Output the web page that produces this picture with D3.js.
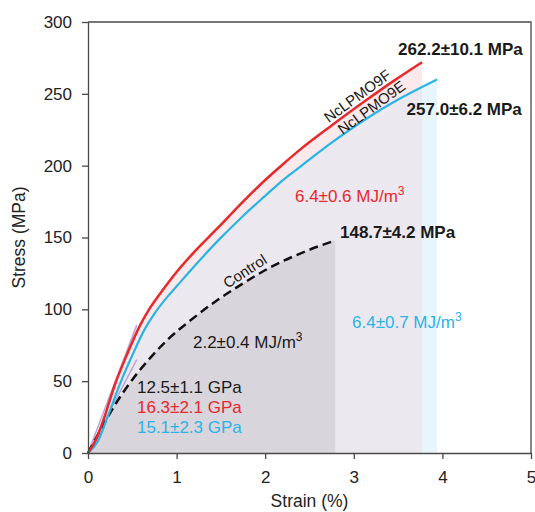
<!DOCTYPE html>
<html lang="en">
  <head>
    <meta charset="utf-8" />
    <title>Stress-strain</title>
    <script src="https://d3js.org/d3.v7.min.js"></script>
    <style>
      body { margin: 0; background: #fff; }
      text { font-family: "Liberation Sans", Arial, sans-serif; }
    </style>
  </head>
  <body>
    <div id="container"></div>
    <script>
      var width = 535;
      var height = 512;

      // strain (%) / stress (MPa)
      var strainF = [0, 0.08, 0.18, 0.3, 0.45, 0.58, 0.7, 0.85, 1.0, 1.2, 1.47, 1.75, 2.0, 2.2, 2.39, 2.75, 3.15, 3.45, 3.77];
      var stressF = [0, 8, 24, 47, 70, 88, 101, 114, 126, 140, 157, 175, 190, 201, 211, 228, 246, 259, 272];

      var strainE = [0, 0.11, 0.22, 0.36, 0.5, 0.63, 0.75, 0.9, 1.0, 1.2, 1.47, 1.75, 2.0, 2.2, 2.39, 2.75, 3.15, 3.5, 3.94];
      var stressE = [0, 8, 25, 48, 68, 85, 97, 109, 116, 130, 148, 165, 179, 190, 199, 216, 233, 246, 260];

      var strainC = [0, 0.15, 0.3, 0.5, 0.7, 0.9, 1.15, 1.45, 1.75, 2.05, 2.4, 2.79];
      var stressC = [0, 17, 33, 51, 66, 79, 92, 106, 118, 129, 139, 148];

      // modulus tangent lines [strain, stress]
      var tangents = [[0.55, 89], [0.55, 65]];

      var xTicks = [0, 1, 2, 3, 4, 5];
      var yTicks = [0, 50, 100, 150, 200, 250, 300];

      var black = "#1a1a1a";
      var red = "#e8282b";
      var blue = "#29b4e6";

      function zip(xs, ys) {
        return xs.map(function (v, i) { return { s: v, v: ys[i] }; });
      }
      var dataF = zip(strainF, stressF);
      var dataE = zip(strainE, stressE);
      var dataC = zip(strainC, stressC);

      var svg = d3.select("#container").append("svg")
        .attr("width", width)
        .attr("height", height);

      var x = d3.scaleLinear().domain([0, 5]).range([88, 531]);
      var y = d3.scaleLinear().domain([0, 300]).range([453, 22]);

      var area = d3.area()
        .x(function (d) { return x(d.s); })
        .y0(y(0))
        .y1(function (d) { return y(d.v); })
        .curve(d3.curveMonotoneX);
      var line = d3.line()
        .x(function (d) { return x(d.s); })
        .y(function (d) { return y(d.v); })
        .curve(d3.curveMonotoneX);

      // clip for the overlap of both areas
      svg.append("clipPath").attr("id", "clipF")
        .append("rect")
        .attr("x", x(0)).attr("y", y(300))
        .attr("width", x(strainF[strainF.length - 1]) - x(0))
        .attr("height", y(0) - y(300));

      svg.append("path").datum(dataE).attr("d", area).attr("fill", "#e8f6fc");
      svg.append("path").datum(dataF).attr("d", area).attr("fill", "#fbe9eb");
      svg.append("path").datum(dataE).attr("d", area).attr("fill", "#ece8ef")
        .attr("clip-path", "url(#clipF)");
      svg.append("path").datum(dataC).attr("d", area).attr("fill", "#d9d5dc");

      // tangent lines
      svg.selectAll(".tan").data(tangents).enter().append("line")
        .attr("x1", x(0)).attr("y1", y(0))
        .attr("x2", function (d) { return x(d[0]); })
        .attr("y2", function (d) { return y(d[1]); })
        .attr("stroke", "#b9a5d8")
        .attr("stroke-width", 1.5);

      svg.append("path").datum(dataC).attr("d", line)
        .attr("fill", "none").attr("stroke", "#111")
        .attr("stroke-width", 2.5).attr("stroke-dasharray", "9,5");
      svg.append("path").datum(dataE).attr("d", line)
        .attr("fill", "none").attr("stroke", blue).attr("stroke-width", 2.2);
      svg.append("path").datum(dataF).attr("d", line)
        .attr("fill", "none").attr("stroke", red).attr("stroke-width", 2.5);

      // axes and frame
      var axisColor = "#4a4a4a";
      var xAxis = svg.append("g").attr("transform", "translate(0," + y(0) + ")")
        .call(d3.axisBottom(x).tickValues(xTicks).tickSize(6).tickSizeOuter(0).tickPadding(12).tickFormat(d3.format("d")));
      var yAxis = svg.append("g").attr("transform", "translate(" + x(0) + ",0)")
        .call(d3.axisLeft(y).tickValues(yTicks).tickSize(6).tickSizeOuter(0).tickPadding(10));
      [xAxis, yAxis].forEach(function (g) {
        g.selectAll("path, line").attr("stroke", axisColor).attr("stroke-width", 1.3);
        g.selectAll("text").attr("font-size", "17px").attr("fill", "#222")
          .style("font-family", '"Liberation Sans", Arial, sans-serif');
      });
      svg.append("path")
        .attr("d", "M" + x(0) + "," + y(300) + "H" + x(5) + "V" + y(0))
        .attr("fill", "none").attr("stroke", axisColor).attr("stroke-width", 1.3);

      svg.append("text").attr("x", (x(0) + x(5)) / 2).attr("y", 507)
        .attr("text-anchor", "middle").attr("font-size", "17.5px").attr("fill", "#222")
        .text("Strain (%)");
      svg.append("text")
        .attr("transform", "translate(25," + ((y(0) + y(300)) / 2) + ") rotate(-90)")
        .attr("text-anchor", "middle").attr("font-size", "17.5px").attr("fill", "#222")
        .text("Stress (MPa)");

      // annotations: [strain, stress, text, color, bold, superscript]
      var notes = [
        [3.50, 277, "262.2±10.1 MPa", black, true, ""],
        [3.596, 235, "257.0±6.2 MPa", black, true, ""],
        [2.844, 150, "148.7±4.2 MPa", black, true, ""],
        [2.336, 174.7, "6.4±0.6 MJ/m", red, false, "3"],
        [2.98, 87, "6.4±0.7 MJ/m", blue, false, "3"],
        [1.185, 73.1, "2.2±0.4 MJ/m", black, false, "3"],
        [0.553, 41.8, "12.5±1.1 GPa", black, false, ""],
        [0.553, 27.8, "16.3±2.1 GPa", red, false, ""],
        [0.553, 13.9, "15.1±2.3 GPa", blue, false, ""]
      ];
      notes.forEach(function (n) {
        var t = svg.append("text")
          .attr("x", x(n[0])).attr("y", y(n[1]))
          .attr("font-size", "17px")
          .attr("font-weight", n[4] ? "bold" : "normal")
          .attr("fill", n[3])
          .text(n[2]);
        if (n[5]) {
          t.append("tspan").attr("font-size", "12px").attr("dy", "-7").text(n[5]);
        }
      });

      // curve labels: [strain, stress, text, angle]
      var curveLabels = [
        [1.77, 126.5, "Control", -33],
        [3.04, 248.5, "NcLPMO9F", -36],
        [3.2, 240.5, "NcLPMO9E", -36]
      ];
      svg.selectAll(".clab").data(curveLabels).enter().append("text")
        .attr("transform", function (d) {
          return "translate(" + x(d[0]) + "," + y(d[1]) + ") rotate(" + d[3] + ")";
        })
        .attr("text-anchor", "middle").attr("dy", "0.35em")
        .attr("font-size", "15px").attr("fill", black)
        .text(function (d) { return d[2]; });
    </script>
  </body>
</html>
